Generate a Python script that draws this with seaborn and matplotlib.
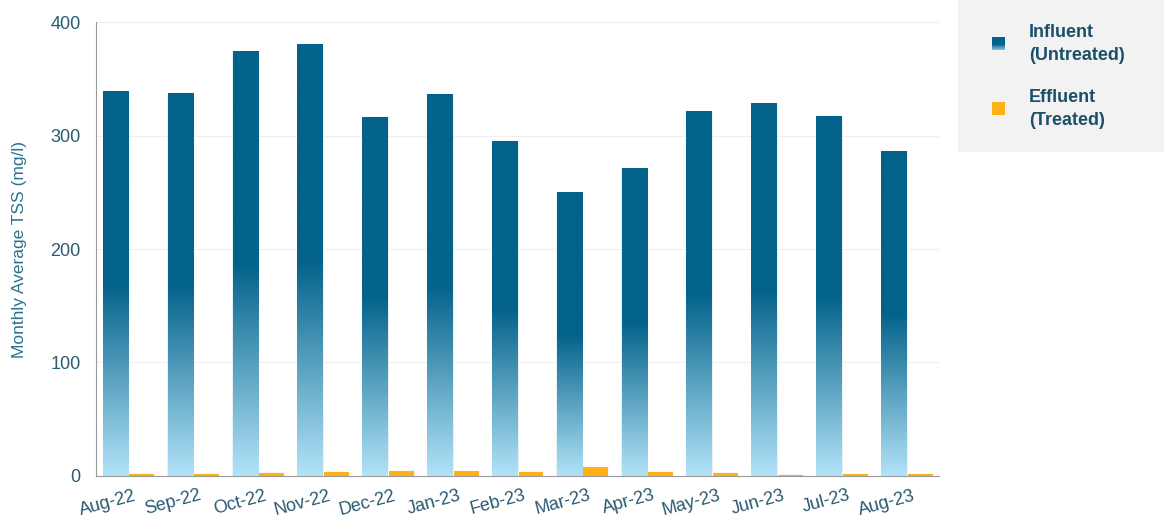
import numpy as np
import pandas as pd
import seaborn as sns
import matplotlib.pyplot as plt
import matplotlib.transforms as mtransforms
from matplotlib.patches import Rectangle
from matplotlib.legend_handler import HandlerBase
from matplotlib.colors import LinearSegmentedColormap

months = ["Aug-22", "Sep-22", "Oct-22", "Nov-22", "Dec-22", "Jan-23", "Feb-23",
          "Mar-23", "Apr-23", "May-23", "Jun-23", "Jul-23", "Aug-23"]
influent = [339, 337, 374, 380, 316, 336, 295, 250, 271, 321, 328, 317, 286]
effluent = [2.4, 2.4, 3.2, 4.4, 5.6, 5.6, 4.4, 8.8, 4.4, 3.2, 1.7, 2.4, 2.4]
series = ["Influent\n(Untreated)", "Effluent\n(Treated)"]

dark = "#03628a"
light = "#b2e3f8"
orange = "#ffb217"
text_col = "#1b4f68"

df = pd.DataFrame({
    "month": months * 2,
    "tss": influent + effluent,
    "series": [series[0]] * len(months) + [series[1]] * len(months),
})

sns.set_style("white")
plt.rcParams["font.family"] = ["Liberation Sans", "DejaVu Sans"]

fig = plt.figure(figsize=(11.64, 5.23), dpi=100)
ax = fig.add_axes([0.0825, 0.0899, 0.7242, 0.868])

sns.barplot(data=df, x="month", y="tss", hue="series", palette=[dark, orange],
            saturation=1, width=0.8, ax=ax, legend=False,
            edgecolor="white", linewidth=0.6)

# gradient: light at bottom, dark from the middle upward
cmap = LinearSegmentedColormap.from_list("g", [(0, light), (0.5, dark), (1, dark)])
grad = np.linspace(0, 1, 256).reshape(-1, 1)
for p in ax.patches[:len(months)]:
    x0, y0 = p.get_x(), p.get_y()
    w, h = p.get_width(), p.get_height()
    ax.imshow(grad, cmap=cmap, origin="lower", aspect="auto",
              extent=[x0 + 0.006, x0 + w - 0.006, y0, y0 + h], zorder=p.get_zorder() + 0.1)
ax.set_ylim(0, 400)
ax.set_xlim(-0.5, len(months) - 0.5)

ax.set_yticks([0, 100, 200, 300, 400])
ax.yaxis.grid(True, color="#eeeeee", linewidth=0.8)
ax.set_axisbelow(True)
for s in ["top", "right"]:
    ax.spines[s].set_visible(False)
ax.spines["left"].set_color("#999999")
ax.spines["bottom"].set_color("#999999")
ax.tick_params(axis="y", length=0, labelsize=13, labelcolor="#2a5b72", pad=11)
ax.tick_params(axis="x", length=0, labelsize=13, labelcolor="#2a5b72", pad=8)
offset = mtransforms.ScaledTranslation(4 / 72, 0, fig.dpi_scale_trans)
for lbl in ax.get_xticklabels():
    lbl.set_rotation(15)
    lbl.set_ha("right")
    lbl.set_rotation_mode("anchor")
    lbl.set_transform(lbl.get_transform() + offset)
ax.set_xlabel("")
ax.set_ylabel("Monthly Average TSS (mg/l)", color="#2a7390", fontsize=12.5, labelpad=17)


class GradHandler(HandlerBase):
    def create_artists(self, legend, orig, xd, yd, width, height, fontsize, trans):
        arts = []
        n = 14
        size = height
        for i in range(n):
            c = cmap(1 - 0.85 * i / (n - 1))
            r = Rectangle((xd + (width - size) / 2, yd + size - (i + 1) * size / n),
                          size, size / n, facecolor=c, edgecolor="none", transform=trans)
            arts.append(r)
        return arts


class SquareHandler(HandlerBase):
    def create_artists(self, legend, orig, xd, yd, width, height, fontsize, trans):
        r = Rectangle((xd + (width - height) / 2, yd), height, height,
                      facecolor=orig.get_facecolor(), edgecolor="none", transform=trans)
        return [r]


fig.patches.append(Rectangle((0.823, 0.709), 0.177, 0.291, transform=fig.transFigure,
                             facecolor="#f2f2f2", edgecolor="none", zorder=0))
h1 = Rectangle((0, 0), 1, 1, facecolor=dark)
h2 = Rectangle((0, 0), 1, 1, facecolor=orange)
leg = fig.legend([h1, h2], series, loc="upper left", bbox_to_anchor=(0.838, 0.985),
                 frameon=False, handler_map={h1: GradHandler(), h2: SquareHandler()},
                 prop={"size": 13, "weight": "bold"}, labelspacing=1.4,
                 handlelength=0.75, handleheight=0.75, handletextpad=1.3)
for t in leg.get_texts():
    t.set_color(text_col)
    t.set_linespacing(1.45)

fig.savefig("out.png", dpi=100)
